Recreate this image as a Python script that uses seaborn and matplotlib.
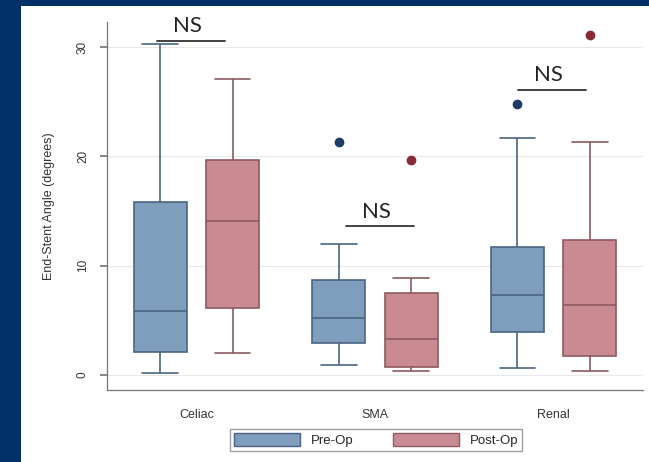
import matplotlib
matplotlib.use("Agg")
import matplotlib.pyplot as plt
from matplotlib.patches import Rectangle
import seaborn as sns
import numpy as np
import pandas as pd

# --- Data (box summaries) ---
arteries = ["Celiac", "SMA", "Renal"]
phases = ["Pre-Op", "Post-Op"]

# lower whisker, Q1, median, Q3, upper whisker
pre_stats = [
    [0.2, 2.1, 5.8, 15.8, 30.3],
    [0.9, 2.9, 5.2, 8.7, 12.0],
    [0.6, 3.9, 7.3, 11.7, 21.7],
]
post_stats = [
    [2.0, 6.1, 14.1, 19.7, 27.1],
    [0.3, 0.7, 3.3, 7.5, 8.9],
    [0.3, 1.7, 6.4, 12.3, 21.3],
]
pre_outliers = [None, 21.3, 24.8]
post_outliers = [None, 19.7, 31.1]

# NS brackets: (x_left, x_right, y)
ns_brackets = [(-0.22, 0.16, 30.6), (0.84, 1.22, 13.6), (1.80, 2.18, 26.1)]

colors = {"Pre-Op": "#7f9dbc", "Post-Op": "#c98b91"}
edges = {"Pre-Op": "#4a6581", "Post-Op": "#8c5a60"}
fliers = {"Pre-Op": "#1d3c68", "Post-Op": "#8b2a36"}


def sample(stats, out):
    # 9 values whose linear percentiles give exactly these box stats
    lo, q1, med, q3, hi = stats
    if out is None:
        return [lo, q1, q1, med, med, med, q3, q3, hi]
    return [lo, q1, q1, med, med, q3, q3, hi, out]


rows = []
for i, art in enumerate(arteries):
    for ph, st, ol in [("Pre-Op", pre_stats, pre_outliers), ("Post-Op", post_stats, post_outliers)]:
        for v in sample(st[i], ol[i]):
            rows.append({"Artery": art, "Phase": ph, "Angle": v})
df = pd.DataFrame(rows)

# --- Figure ---
sns.set_theme(style="white")
plt.rcParams["font.family"] = ["Liberation Sans", "DejaVu Sans"]

fig = plt.figure(figsize=(6.49, 4.62), dpi=100, facecolor="#003067")
fig.patches.append(Rectangle((21 / 649, 0), 1, 1 - 6 / 462, transform=fig.transFigure,
                             facecolor="white", edgecolor="none", zorder=-1))
ax = fig.add_axes([107 / 649, 1 - 390 / 462, (643 - 107) / 649, (390 - 22) / 462])
ax.set_facecolor("white")

sns.boxplot(data=df, x="Artery", y="Angle", hue="Phase", order=arteries, hue_order=phases,
            width=0.81, gap=0.27, whis=1.5, ax=ax, legend=False, linewidth=1.2)

# recolor boxes per phase
n = len(arteries)
for j, ph in enumerate(phases):
    for patch in ax.patches[j * n:(j + 1) * n]:
        patch.set_facecolor(colors[ph])
        patch.set_edgecolor(edges[ph])
for k, line in enumerate(ax.lines):
    # seaborn adds 6 lines per box: 2 whiskers, 2 caps, median, fliers
    box = k // 6
    ph = phases[box // n]
    line.set_color(edges[ph])
    if k % 6 in (2, 3):
        xd = np.asarray(line.get_xdata(), dtype=float)
        c = xd.mean()
        line.set_xdata(c + (xd - c) * 1.35)
    if k % 6 == 5:
        line.set_marker("o")
        line.set_markersize(6)
        line.set_markerfacecolor(fliers[ph])
        line.set_markeredgecolor(fliers[ph])

ax.set_xlim(-0.5, 2.5)
ax.set_ylim(-1.4, 32.3)
ax.set_yticks([0, 10, 20, 30])
ax.yaxis.grid(True, color="#e8e8e8", linewidth=0.8)
ax.set_axisbelow(True)
for s in ["top", "right"]:
    ax.spines[s].set_visible(False)
for s in ["left", "bottom"]:
    ax.spines[s].set_color("#777777")
    ax.spines[s].set_linewidth(0.9)
ax.tick_params(axis="y", left=True, length=5, color="#777777", labelsize=8.5, labelcolor="#333333",
               labelrotation=90, pad=8)
ax.tick_params(axis="x", bottom=False, labelsize=9, labelcolor="#333333", pad=8)
for t in ax.get_yticklabels():
    t.set_va("center")
ax.set_xlabel("")
ax.set_ylabel("End-Stent Angle (degrees)", fontsize=9, color="#333333", labelpad=16)

# NS annotations
for x0, x1, y in ns_brackets:
    ax.plot([x0, x1], [y, y], color="#333333", linewidth=1.3, clip_on=False)
    ax.text((x0 + x1) / 2 - 0.02, y + 0.4, "NS", ha="center", va="bottom", fontsize=16,
            family=["Lato", "DejaVu Sans"], color="#222222", clip_on=False)

# legend
handles = [Rectangle((0, 0), 1, 1, facecolor=colors[p], edgecolor=edges[p]) for p in phases]
fig.legend(handles, phases, loc="center", bbox_to_anchor=(376 / 649, 1 - 440 / 462), ncol=2,
           frameon=True, fancybox=False, edgecolor="#888888", fontsize=9.5, handlelength=5,
           handleheight=1.1, columnspacing=3, borderpad=0.3)

fig.savefig("out.png", dpi=100, facecolor=fig.get_facecolor())
